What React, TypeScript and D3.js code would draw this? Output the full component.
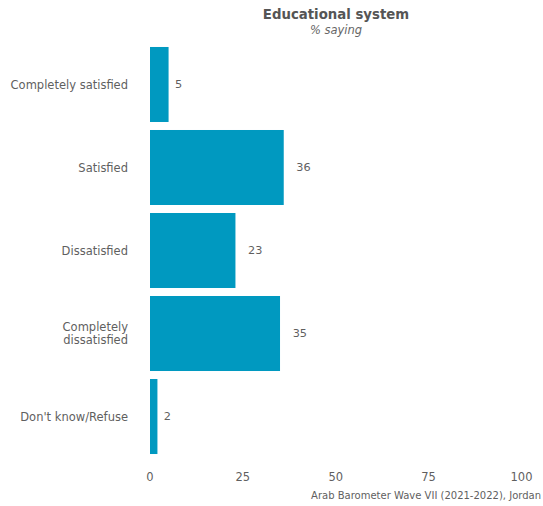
import React from "react";
import * as d3 from "d3";

const categories = ["Completely satisfied", "Satisfied", "Dissatisfied", "Completely\ndissatisfied", "Don't know/Refuse"];
const values = [5, 36, 23, 35, 2];
const ticks = [0, 25, 50, 75, 100];
const title = "Educational system";
const subtitle = "% saying";
const caption = "Arab Barometer Wave VII (2021-2022), Jordan";

const W = 543, H = 506;
const FONT = "'DejaVu Sans', sans-serif";
const BAR = "#0099c0";
const TXT = "#5f5f5f";

export default function App() {
  const x = d3.scaleLinear().domain([0, 100]).range([150, 521.5]);
  const y = d3.scaleBand<string>().domain(categories).range([43, 458]).paddingInner(0.0964).paddingOuter(0.048);
  return (
    <svg width={W} height={H} style={{ position: "absolute", left: 0, top: 0 }} fontFamily={FONT}>
      <text x={336} y={14.5} dy="0.35em" textAnchor="middle" fontSize={13.3} fontWeight="bold" fill="#555">{title}</text>
      <text x={336} y={29.5} dy="0.35em" textAnchor="middle" fontSize={11.5} fontStyle="italic" fill="#666">{subtitle}</text>
      {categories.map((c, i) => {
        const yb = y(c)!;
        const cy = yb + y.bandwidth() / 2;
        const lines = c.split("\n");
        const digits = String(values[i]).length;
        return (
          <g key={c}>
            <rect x={x(0)} y={yb} width={x(values[i]) - x(0)} height={y.bandwidth()} fill={BAR} />
            <text x={x(values[i]) + digits * 6.3} y={cy} dy="0.35em" fontSize={11.3} fill={TXT}>{values[i]}</text>
            {lines.map((l, j) => (
              <text key={j} x={128} y={cy + (j - (lines.length - 1) / 2) * 13} dy="0.35em" textAnchor="end" fontSize={11.5} fill={TXT}>{l}</text>
            ))}
          </g>
        );
      })}
      {ticks.map((t) => (
        <text key={t} x={x(t)} y={477} dy="0.35em" textAnchor="middle" fontSize={11.5} fill={TXT}>{t}</text>
      ))}
      <text x={541} y={495} dy="0.35em" textAnchor="end" fontSize={10} fill={TXT}>{caption}</text>
    </svg>
  );
}
